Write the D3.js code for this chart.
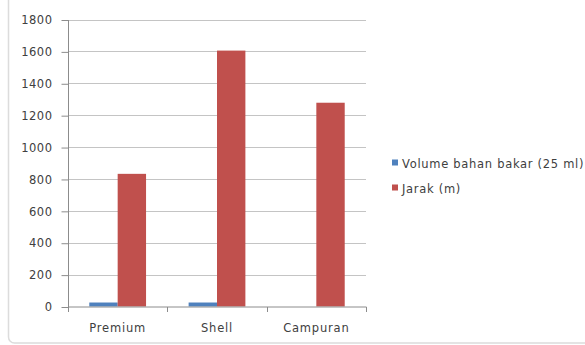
<!DOCTYPE html>
<html><head><meta charset="utf-8">
<script src="https://cdn.jsdelivr.net/npm/d3@7"></script>
<style>body{margin:0;background:#fff;}svg{display:block;}</style>
</head><body>
<script>
const categories = ["Premium", "Shell", "Campuran"];
const seriesNames = ["Volume bahan bakar (25 ml)", "Jarak (m)"];
const volume = [25, 25, 0];
const jarak = [832, 1605, 1278];
const yTicks = [0, 200, 400, 600, 800, 1000, 1200, 1400, 1600, 1800];
const colors = ["#4F81BD", "#C0504D"];

(function () {
const W = 585, H = 345;
const svg = d3.select("body").append("svg").attr("width", W).attr("height", H);
const font = "DejaVu Sans";

// frame
svg.append("rect").attr("x", 8.5).attr("y", -20).attr("width", 620).attr("height", 363)
  .attr("rx", 6).attr("fill", "none").attr("stroke", "#dcdcdc").attr("stroke-width", 1.5);

const pLeft = 68, pRight = 366, pTop = 19.5, pBottom = 306.5;
const x = d3.scaleBand().domain(categories).range([pLeft, pRight]).paddingInner(0).paddingOuter(0);
const x1 = d3.scaleBand().domain([0, 1]).range([0, x.bandwidth()]).paddingInner(0).paddingOuter(0.75);
const y = d3.scaleLinear().domain([0, 1800]).range([pBottom, pTop]);

// gridlines
svg.append("g").selectAll("line").data(yTicks.filter(d => d > 0)).join("line")
  .attr("x1", pLeft).attr("x2", pRight)
  .attr("y1", d => Math.round(y(d)) + 0.5).attr("y2", d => Math.round(y(d)) + 0.5)
  .attr("stroke", "#c4c4c4").attr("stroke-width", 1);

// bars
const series = [volume, jarak];
series.forEach((vals, si) => {
  svg.append("g").selectAll("rect").data(categories).join("rect")
    .attr("x", (c) => x(c) + x1(si))
    .attr("width", x1.bandwidth())
    .attr("y", (c, i) => y(vals[i]))
    .attr("height", (c, i) => pBottom - y(vals[i]))
    .attr("fill", colors[si]);
});

// y axis
const yAxis = d3.axisLeft(y).tickValues(yTicks).tickSize(7).tickPadding(9).tickFormat(d3.format("d"));
const gy = svg.append("g").attr("transform", `translate(${pLeft + 0.5},0.5)`).call(yAxis);
gy.select(".domain").attr("stroke", "#8c8c8c").attr("d", `M-0,${pTop}V${pBottom}`);
gy.selectAll(".tick line").attr("stroke", "#8c8c8c");
gy.selectAll("text").attr("font-family", font).attr("font-size", 11.5).attr("fill", "#404040")
  .attr("letter-spacing", 0.5);

// x axis
const gx = svg.append("g").attr("transform", `translate(0,${pBottom + 0.5})`);
gx.append("line").attr("x1", pLeft).attr("x2", pRight + 0.5).attr("y1", 0).attr("y2", 0).attr("stroke", "#8c8c8c");
const bounds = categories.map(c => x(c)).concat([x(categories[categories.length - 1]) + x.bandwidth()]);
gx.selectAll("line.t").data(bounds).join("line").attr("class", "t")
  .attr("x1", d => Math.round(d) + 0.5).attr("x2", d => Math.round(d) + 0.5)
  .attr("y1", 0).attr("y2", 5).attr("stroke", "#8c8c8c");
gx.selectAll("text").data(categories).join("text")
  .attr("x", d => x(d) + x.bandwidth() / 2).attr("y", 25)
  .attr("text-anchor", "middle").attr("font-family", font).attr("font-size", 11.5)
  .attr("letter-spacing", 0.8).attr("fill", "#404040").text(d => d);

// legend
const lg = svg.append("g");
const legendY = [164, 189];
seriesNames.forEach((n, i) => {
  lg.append("rect").attr("x", 392).attr("y", legendY[i] - 4.5).attr("width", 6).attr("height", 6).attr("fill", colors[i]);
  lg.append("text").attr("x", 402).attr("y", legendY[i]).attr("dy", "0.35em")
    .attr("font-family", font).attr("font-size", 11.5).attr("letter-spacing", 0.7)
    .attr("fill", "#404040").text(n);
});
})();
</script>
</body></html>
